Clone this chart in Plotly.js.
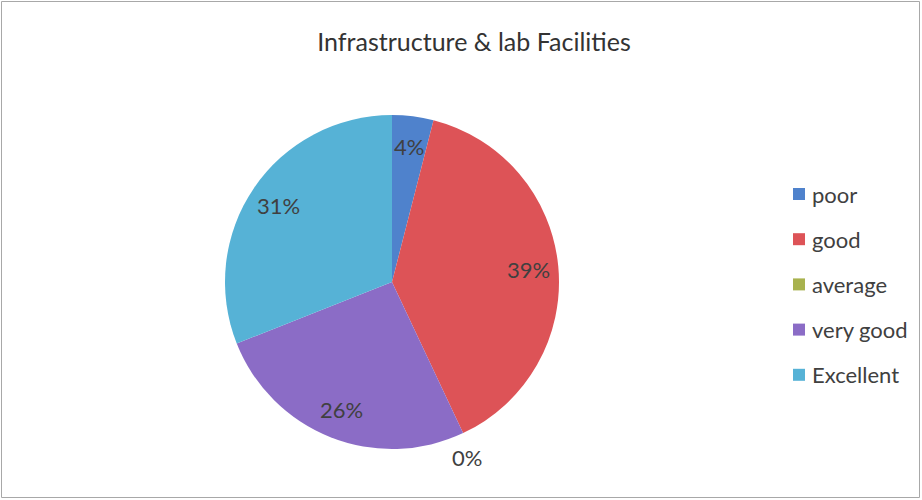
<!DOCTYPE html>
<html>
<head>
<meta charset="utf-8">
<script src="https://cdn.plot.ly/plotly-3.0.1.min.js"></script>
<style>html,body{margin:0;padding:0;background:#fff;}#chart{width:922px;height:500px;}</style>
</head>
<body>
<div id="chart"></div>
<script>
// Data
const categories = ["poor", "good", "average", "very good", "Excellent"];
const percentValues = [4, 39, 0, 26, 31];
const sliceColors = ["#4f82cc", "#dd5357", "#a8b24e", "#8b6cc6", "#56b2d6"];
const chartTitle = "Infrastructure & lab Facilities";

// Layout geometry (pixels)
const W = 922, H = 500;
const L = 225, R = 363, T = 115, B = 51;
const PW = W - L - R, PH = H - T - B;
const px2x = p => (p - L) / PW;
const px2y = p => 1 - (p - T) / PH;

const FONT = "Lato, 'Open Sans', sans-serif";
const TXT = "#404040";

// Labels positioned by each slice's mid angle (clockwise from 12 o'clock)
const total = percentValues.reduce((a, b) => a + b, 0);
const annotations = [];
let cum = 0;
percentValues.forEach((v, i) => {
  const mid = (cum + v / 2) / total * 2 * Math.PI;
  cum += v;
  const outside = v === 0;
  const f = outside ? 1.06 : 0.82;
  annotations.push({
    xref: "paper", yref: "paper",
    x: 0.5 + 0.5 * f * Math.sin(mid),
    y: 0.5 + 0.5 * f * Math.cos(mid),
    xanchor: "center", yanchor: outside ? "top" : "middle",
    text: v + "%", showarrow: false,
    font: {family: FONT, size: 22, color: TXT}
  });
});

// Legend (manual, Excel-like spacing)
const shapes = [];
const legX = 793, legY0 = 194, legStep = 45.2, sq = 12;
categories.forEach((c, i) => {
  const cy = legY0 + i * legStep;
  shapes.push({
    type: "rect", xref: "paper", yref: "paper",
    x0: px2x(legX), x1: px2x(legX + sq),
    y0: px2y(cy - sq / 2), y1: px2y(cy + sq / 2),
    fillcolor: sliceColors[i], line: {width: 0}
  });
  annotations.push({
    xref: "paper", yref: "paper",
    x: px2x(legX + sq + 5), y: px2y(cy),
    xanchor: "left", yanchor: "middle",
    text: c, showarrow: false,
    font: {family: FONT, size: 22, color: TXT}
  });
});

// Chart frame
shapes.push({
  type: "rect", xref: "paper", yref: "paper", layer: "below",
  x0: px2x(1.5), x1: px2x(919.5), y0: px2y(1.5), y1: px2y(497.5),
  line: {color: "#a8a8a8", width: 1}, fillcolor: "rgba(0,0,0,0)"
});

const data = [{
  type: "pie",
  labels: categories,
  values: percentValues,
  marker: {colors: sliceColors, line: {width: 0}},
  sort: false,
  direction: "clockwise",
  rotation: 0,
  textinfo: "none",
  hoverinfo: "label+percent",
  showlegend: false
}];

const layout = {
  width: W, height: H,
  margin: {l: L, r: R, t: T, b: B},
  paper_bgcolor: "#ffffff",
  title: {
    text: chartTitle,
    x: 474 / W, xref: "container", xanchor: "center",
    y: 1 - 42 / H, yref: "container", yanchor: "middle",
    font: {family: FONT, size: 25, color: "#333333"}
  },
  showlegend: false,
  annotations: annotations,
  shapes: shapes
};

Plotly.newPlot("chart", data, layout, {displayModeBar: false, staticPlot: true});
</script>
</body>
</html>
